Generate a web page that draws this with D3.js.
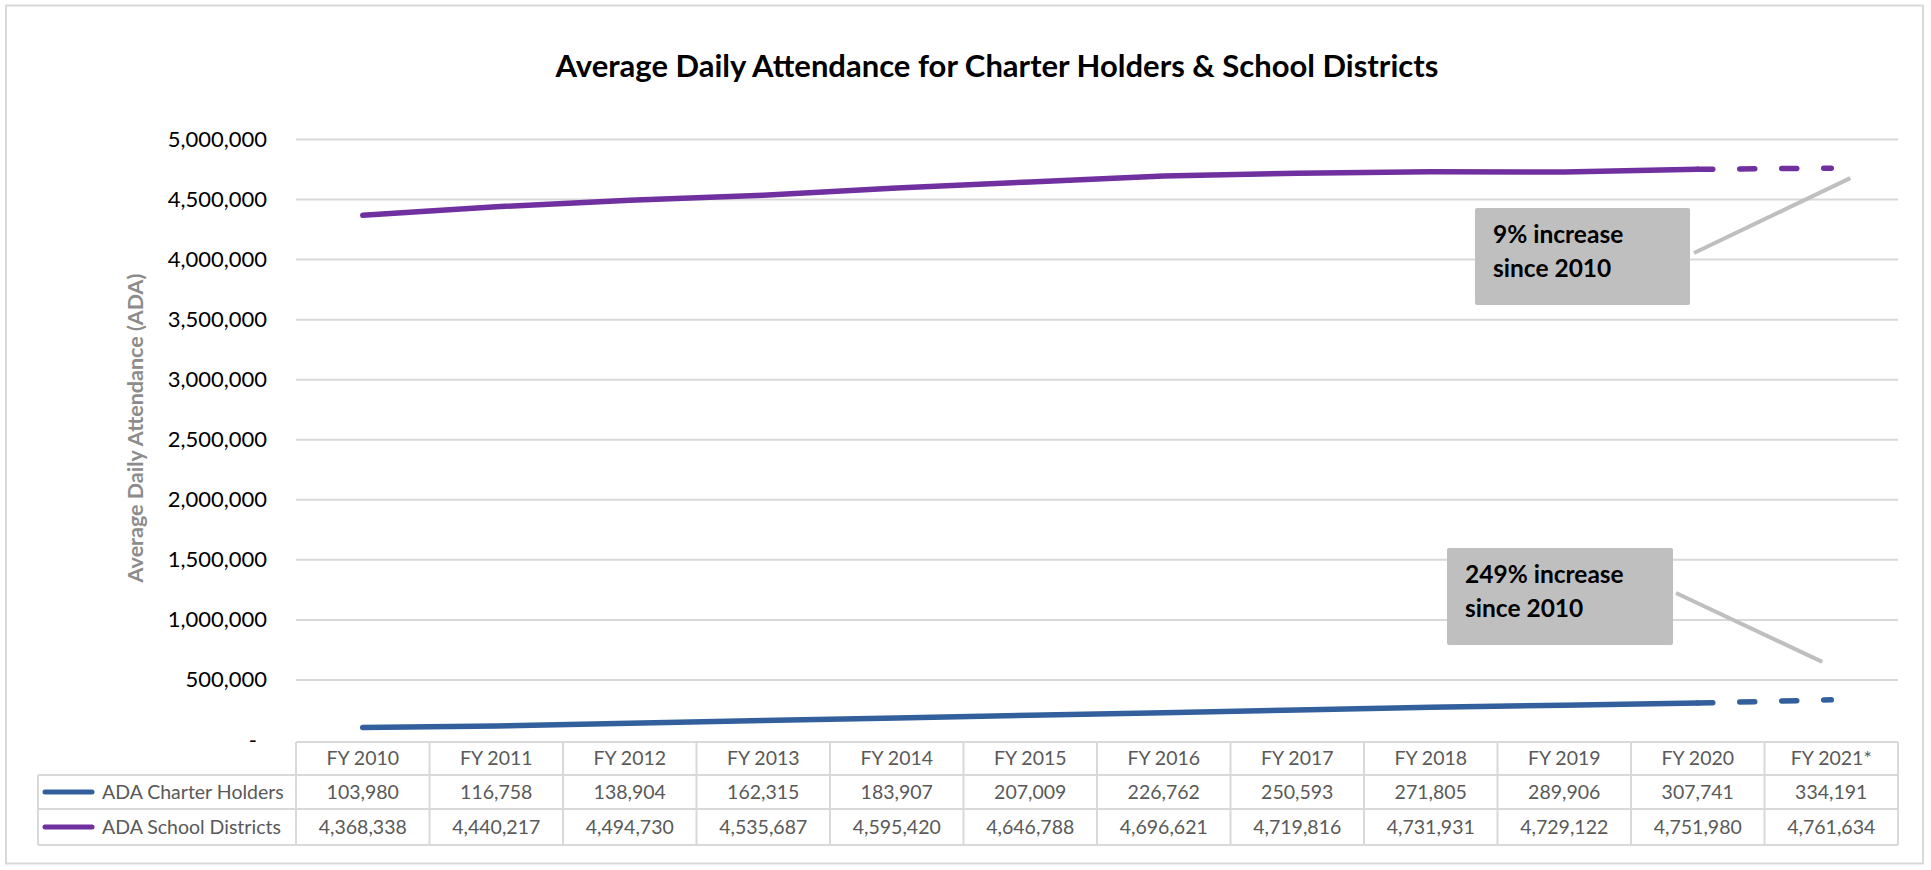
<!DOCTYPE html>
<html lang='en'>
<head>
  <meta charset='UTF-8'>
  <title>Average Daily Attendance</title>
  <script src='https://d3js.org/d3.v7.min.js'></script>
  <style>
    html, body { margin: 0; padding: 0; background: #fff; }
    #main { width: 1931px; height: 870px; }
    text { font-family: Lato, 'Liberation Sans', sans-serif; }
  </style>
</head>
<body>
<div id='main'></div>
<script>
  // data
  const years = ['FY 2010', 'FY 2011', 'FY 2012', 'FY 2013', 'FY 2014', 'FY 2015',
    'FY 2016', 'FY 2017', 'FY 2018', 'FY 2019', 'FY 2020', 'FY 2021*']
  const charterHolders = [103980, 116758, 138904, 162315, 183907, 207009,
    226762, 250593, 271805, 289906, 307741, 334191]
  const schoolDistricts = [4368338, 4440217, 4494730, 4535687, 4595420, 4646788,
    4696621, 4719816, 4731931, 4729122, 4751980, 4761634]
  const seriesNames = ['ADA Charter Holders', 'ADA School Districts']
  const yTicks = [0, 500000, 1000000, 1500000, 2000000, 2500000, 3000000,
    3500000, 4000000, 4500000, 5000000]
  const notes = [['9% increase', 'since 2010'], ['249% increase', 'since 2010']]

  const width = 1931
  const height = 870
  const plotLeft = 296
  const plotRight = 1898
  const plotTop = 139.5
  const plotBottom = 740
  const rowH = [742, 775, 809, 845] // table row edges
  const gridColor = '#d9d9d9'
  const colors = ['#33609c', '#7030a0']
  const fmt = d3.format(',')

  let svg = d3.select('#main').append('svg')
    .attr('width', width)
    .attr('height', height)

  // outer frame
  svg.append('rect')
    .attr('x', 6).attr('y', 5.5)
    .attr('width', 1917).attr('height', 858)
    .attr('fill', '#fff')
    .attr('stroke', gridColor)
    .attr('stroke-width', 2)

  let x = d3.scaleBand().domain(years).range([plotLeft, plotRight])
  let y = d3.scaleLinear().domain([0, 5000000]).range([plotBottom, plotTop])
  let cx = d => x(d) + x.bandwidth() / 2

  // title
  svg.append('text')
    .attr('x', 997).attr('y', 77)
    .attr('text-anchor', 'middle')
    .style('font-size', '31px')
    .style('font-weight', 'bold')
    .style('fill', '#000')
    .text('Average Daily Attendance for Charter Holders & School Districts')

  // gridlines
  svg.append('g')
    .selectAll('line')
    .data(yTicks.filter(d => d > 0))
    .enter().append('line')
    .attr('x1', plotLeft).attr('x2', plotRight)
    .attr('y1', d => y(d)).attr('y2', d => y(d))
    .attr('stroke', gridColor)
    .attr('stroke-width', 2)

  // y axis labels
  let yAxis = svg.append('g')
    .attr('transform', `translate(${plotLeft - 29},0)`)
    .call(d3.axisLeft(y).tickValues(yTicks).tickSize(0).tickPadding(0)
      .tickFormat(d => d === 0 ? '-' : fmt(d)))
  yAxis.select('.domain').remove()
  yAxis.selectAll('text')
    .style('font-size', '22px')
    .style('fill', '#000')
    .attr('x', d => d === 0 ? -10 : 0)

  // y axis title
  svg.append('text')
    .attr('transform', 'translate(143,428) rotate(-90)')
    .attr('text-anchor', 'middle')
    .style('font-size', '21.5px')
    .style('font-weight', 'bold')
    .style('fill', '#8c8c8c')
    .text('Average Daily Attendance (ADA)')

  // lines: solid for actuals, dashed for the last (estimated) year
  let line = d3.line().x(d => cx(d.year)).y(d => y(d.value))
  let series = [charterHolders, schoolDistricts].map(vals =>
    vals.map((v, i) => ({year: years[i], value: v})))
  let n = years.length
  series.forEach((pts, i) => {
    svg.append('path')
      .attr('d', line(pts.slice(0, n - 1)))
      .attr('fill', 'none')
      .attr('stroke', colors[i])
      .attr('stroke-width', 5.5)
      .attr('stroke-linecap', 'round')
      .attr('stroke-linejoin', 'round')
    svg.append('path')
      .attr('d', line(pts.slice(n - 2)))
      .attr('fill', 'none')
      .attr('stroke', colors[i])
      .attr('stroke-width', 5.5)
      .attr('stroke-linecap', 'round')
      .attr('stroke-dasharray', '15 27')
  })

  // callout boxes
  let lastX = cx(years[n - 1])
  let callouts = [
    {box: [1475, 208, 215, 97], from: [1694, 253], to: [lastX + 19, y(schoolDistricts[n - 1]) + 10], text: notes[0]},
    {box: [1447, 548, 226, 97], from: [1676, 593], to: [lastX - 9, y(charterHolders[n - 1]) - 38], text: notes[1]}
  ]
  callouts.forEach(c => {
    svg.append('line')
      .attr('x1', c.from[0]).attr('y1', c.from[1])
      .attr('x2', c.to[0]).attr('y2', c.to[1])
      .attr('stroke', '#bfbfbf')
      .attr('stroke-width', 4)
    svg.append('rect')
      .attr('x', c.box[0]).attr('y', c.box[1])
      .attr('width', c.box[2]).attr('height', c.box[3])
      .attr('rx', 2)
      .attr('fill', '#bfbfbf')
    svg.append('g').selectAll('text')
      .data(c.text)
      .enter().append('text')
      .attr('x', c.box[0] + 18)
      .attr('y', (d, k) => c.box[1] + 35 + k * 34)
      .style('font-size', '24.5px')
      .style('font-weight', 'bold')
      .style('fill', '#000')
      .text(d => d)
  })

  // data table under the chart
  let table = svg.append('g')
  let tLine = (x1, y1, x2, y2) => table.append('line')
    .attr('x1', x1).attr('y1', y1).attr('x2', x2).attr('y2', y2)
    .attr('stroke', gridColor).attr('stroke-width', 2)
  tLine(plotLeft, rowH[0], plotRight, rowH[0])
  tLine(38, rowH[1], plotRight, rowH[1])
  tLine(38, rowH[2], plotRight, rowH[2])
  tLine(38, rowH[3], plotRight, rowH[3])
  tLine(38, rowH[1], 38, rowH[3])
  years.forEach(yr => tLine(x(yr), rowH[0], x(yr), rowH[3]))
  tLine(plotRight, rowH[0], plotRight, rowH[3])

  let rowMid = k => (rowH[k] + rowH[k + 1]) / 2
  // header
  table.selectAll('.hdr')
    .data(years)
    .enter().append('text')
    .attr('class', 'hdr')
    .attr('x', d => cx(d))
    .attr('y', rowMid(0))
    .attr('dy', '0.35em')
    .attr('text-anchor', 'middle')
    .style('font-size', '19.5px')
    .style('fill', '#595959')
    .text(d => d)

  ;[charterHolders, schoolDistricts].forEach((vals, i) => {
    let my = rowMid(i + 1)
    table.append('line')
      .attr('x1', 45).attr('x2', 92)
      .attr('y1', my).attr('y2', my)
      .attr('stroke', colors[i])
      .attr('stroke-width', 5)
      .attr('stroke-linecap', 'round')
    table.append('text')
      .attr('x', 102).attr('y', my).attr('dy', '0.35em')
      .style('font-size', '19.5px')
      .style('fill', '#595959')
      .text(seriesNames[i])
    table.append('g').selectAll('text')
      .data(vals)
      .enter().append('text')
      .attr('x', (d, k) => cx(years[k]))
      .attr('y', my).attr('dy', '0.35em')
      .attr('text-anchor', 'middle')
      .style('font-size', '19.5px')
      .style('fill', '#595959')
      .text(d => fmt(d))
  })
</script>
</body>
</html>
